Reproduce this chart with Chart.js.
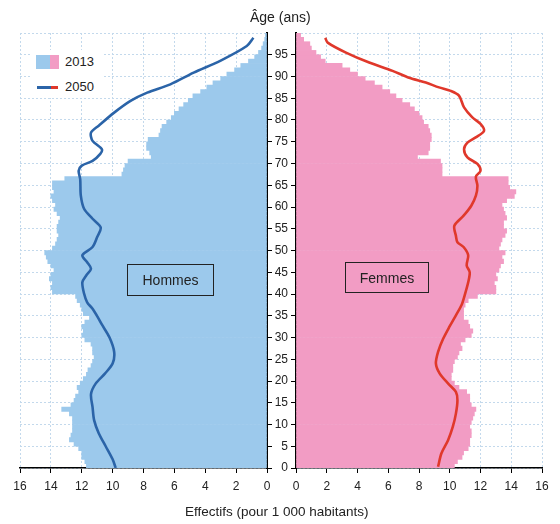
<!DOCTYPE html>
<html lang="fr">
<head>
<meta charset="utf-8">
<title>Pyramide des âges 2013 / 2050</title>
<script src="https://cdn.jsdelivr.net/npm/chart.js@4.4.0/dist/chart.umd.min.js"></script>
<style>
  body { margin: 0; background: #fff; font-family: "Liberation Sans", Arial, sans-serif; color: #222; }
  #wrap { position: relative; width: 560px; height: 524px; overflow: hidden; }
  canvas { position: absolute; top: 0; }
  #gauche { left: 0; }
  #droite { left: 262px; }
  .txt { position: absolute; white-space: nowrap; }
  .box { position: absolute; border: 1.5px solid #222; box-sizing: border-box;
         display: flex; align-items: center; justify-content: center; font-size: 14px; }
  #legende { position: absolute; left: 30px; top: 50px; width: 72px; height: 48px; background: #fff; }
</style>
</head>
<body>
<div id="wrap">
  <canvas id="gauche" width="285" height="524"></canvas>
  <canvas id="droite" width="298" height="524"></canvas>

  <div class="txt" style="left:250px; top:9px; font-size:14px;">Âge (ans)</div>
  <div class="txt" style="left:185px; top:504px; font-size:13.5px;">Effectifs (pour 1 000 habitants)</div>

  <div id="legende">
    <div style="position:absolute; left:6px; top:5px; width:14px; height:14px; background:#9cc9ec;"></div>
    <div style="position:absolute; left:20px; top:5px; width:9px; height:14px; background:#f29cc4;"></div>
    <div class="txt" style="left:35px; top:4px; font-size:13px;">2013</div>
    <div style="position:absolute; left:7px; top:36px; width:14px; height:3px; background:#2b64a8;"></div>
    <div style="position:absolute; left:21px; top:36px; width:7px; height:3px; background:#e0382b;"></div>
    <div class="txt" style="left:35px; top:29px; font-size:13px;">2050</div>
  </div>

  <div class="box" style="left:127px; top:264px; width:87px; height:32px;">Hommes</div>
  <div class="box" style="left:345px; top:262px; width:84px; height:31px;">Femmes</div>
</div>

<script>
// effectifs 2013 par âge (0 à 99 ans), pour 1 000 habitants
const hommes2013 = [
  11.7, 11.8, 12.0, 12.0, 12.2, 12.5, 12.8, 12.7, 12.6, 12.6,
  12.6, 12.6, 12.8, 13.3, 12.7, 12.5, 12.4, 12.2, 12.3, 12.1,
  11.9, 11.7, 11.6, 11.4, 11.3, 11.2, 11.3, 11.3, 11.4, 11.8,
  12.0, 11.9, 12.0, 11.8, 11.5, 11.9, 12.0, 12.1, 12.3, 12.4,
  13.9, 14.0, 13.9, 14.1, 14.0, 13.8, 14.0, 14.2, 14.3, 14.4,
  13.9, 13.7, 13.6, 13.5, 13.6, 13.6, 13.5, 13.4, 13.6, 13.8,
  13.7, 13.9, 14.0, 13.8, 13.9, 13.9, 13.1, 9.4, 9.3, 9.2,
  9.0, 7.5, 7.6, 7.8, 7.8, 7.7, 7.0, 6.9, 6.8, 6.5,
  6.2, 6.0, 5.7, 5.4, 5.1, 4.8, 4.3, 3.9, 3.5, 3.0,
  2.6, 2.1, 1.7, 1.2, 0.8, 0.55, 0.35, 0.25, 0.15, 0.1
];
const femmes2013 = [
  10.3, 10.5, 10.8, 10.9, 11.2, 11.3, 11.3, 11.4, 11.4, 11.3,
  11.4, 11.5, 11.6, 11.7, 11.4, 11.3, 11.3, 11.1, 10.6, 10.3,
  10.1, 10.1, 10.2, 10.2, 10.3, 10.5, 10.6, 10.8, 10.7, 11.0,
  11.4, 11.5, 11.3, 11.2, 10.9, 10.9, 10.9, 11.0, 11.2, 11.8,
  13.0, 13.0, 12.9, 13.1, 13.0, 13.2, 13.3, 13.5, 13.4, 13.6,
  13.2, 13.3, 13.4, 13.6, 13.7, 13.5, 13.5, 13.7, 13.6, 13.5,
  13.4, 13.7, 14.2, 14.3, 13.9, 13.8, 13.8, 9.5, 9.5, 9.5,
  9.4, 7.9, 8.6, 8.7, 8.7, 8.8, 8.8, 8.7, 8.6, 8.3,
  8.2, 8.0, 7.7, 7.4, 6.9, 6.5, 6.1, 5.6, 5.1, 4.5,
  4.0, 3.5, 3.0, 1.9, 1.6, 1.3, 1.0, 0.9, 0.5, 0.3
];

// projection 2050
const agesH2050 = [0, 2, 5, 8, 11, 14, 17, 19.4, 21.7, 24, 26.7, 30, 33, 34.3, 36.6, 38.1, 40.1, 42.7, 44.3, 45.8,
  47.3, 48.9, 50.8, 53.1, 55.3, 57.3, 59.6, 62.6, 66.4, 68.3, 69.5, 70.6, 72.2, 73.3, 75.2, 77.1, 78.7, 81.7,
  84.4, 86.3, 88.2, 90.9, 93.6, 97, 98.9];
const hommes2050 = [9.8, 10.0, 10.45, 10.9, 11.2, 11.3, 11.4, 11.1, 10.5, 10.0, 9.9, 10.2, 10.7, 10.9, 11.3, 11.65, 11.85, 11.96, 11.7, 11.4,
  11.65, 11.96, 11.3, 11.0, 10.77, 11.3, 11.85, 12.06, 12.1, 12.2, 12.0, 11.3, 10.8, 10.7, 11.3, 11.4, 10.9, 9.9,
  8.84, 7.76, 6.26, 4.75, 3.03, 1.31, 0.88];
const agesF2050 = [0.3, 3.4, 6.4, 9.5, 12.5, 15.6, 17.5, 19.4, 21.7, 24, 26.7, 29.7, 32.6, 35.1, 37.4, 39.7, 42.7, 45, 46.6, 48.9,
  50.8, 51.9, 53.4, 55.7, 58, 60.3, 62.6, 64.9, 67, 68.3, 69.9, 71.4, 73.3, 74.8, 76, 77.5, 79.1, 80.6, 82.9,
  85.6, 86.7, 87.5, 88.6, 89.7, 91.3, 93.2, 95.5, 97.8, 98.9];
const femmes2050 = [9.24, 9.46, 9.89, 10.2, 10.4, 10.5, 10.4, 9.9, 9.35, 9.1, 9.24, 9.57, 10.0, 10.4, 10.76, 10.97, 11.2, 11.3, 11.1, 11.2,
  10.9, 10.5, 10.4, 10.3, 10.9, 11.4, 11.7, 11.8, 11.7, 12.0, 11.8, 11.15, 10.93, 11.15, 11.69, 12.23, 12.0, 11.47, 10.93,
  10.6, 10.06, 9.3, 8.44, 7.36, 6.28, 4.76, 3.25, 2.06, 1.9];

const effectifMax = 16;
const ageMax = 100;

Chart.defaults.font.family = '"Liberation Sans", Arial, sans-serif';
Chart.defaults.font.size = 12;
Chart.defaults.color = '#222';

const grille = '#c3d9ec';

function pyramide(id, barres, agesLigne, valeursLigne, couleurBarre, couleurLigne, gauche) {
  const dataBarres = barres.map((v, age) => ({ x: v, y: age + 0.5 }));
  const dataLigne = valeursLigne.map((v, i) => ({ x: v, y: agesLigne[i] }));
  return new Chart(document.getElementById(id), {
    type: 'bar',
    data: {
      datasets: [
        { type: 'line', data: dataLigne, borderColor: couleurLigne, borderWidth: 2.6,
          pointRadius: 0, tension: 0.3, fill: false },
        { type: 'bar', data: dataBarres, backgroundColor: couleurBarre, borderWidth: 0,
          categoryPercentage: 1, barPercentage: 1 }
      ]
    },
    options: {
      indexAxis: 'y',
      responsive: false,
      animation: false,
      devicePixelRatio: 1,
      layout: { padding: gauche ? { left: 20, top: 33, right: 0, bottom: 0 } : { left: 0, top: 33, right: 18, bottom: 0 } },
      plugins: { legend: { display: false }, tooltip: { enabled: false } },
      scales: {
        x: {
          type: 'linear', reverse: gauche, min: 0, max: effectifMax,
          ticks: { stepSize: 2, padding: 6 },
          grid: { color: grille, tickColor: '#000', tickLength: 5 },
          border: { color: '#000', width: 1.5, dash: [2, 2] },
          afterFit: s => { s.height = 56; }
        },
        y: {
          type: 'linear', position: gauche ? 'right' : 'left', min: 0, max: ageMax,
          offset: false,
          ticks: { stepSize: 5, display: !gauche, padding: 3, callback: v => v === ageMax ? '' : v },
          grid: { offset: false, color: grille, tickLength: 5,
                  tickColor: c => (c.tick && c.tick.value === ageMax) ? 'rgba(0,0,0,0)' : '#000' },
          border: { color: '#000', width: 2, dash: [2, 2] },
          afterFit: s => { s.width = gauche ? 18 : 34; }
        }
      }
    }
  });
}

pyramide('gauche', hommes2013, agesH2050, hommes2050, '#9cc9ec', '#2b64a8', true);
pyramide('droite', femmes2013, agesF2050, femmes2050, '#f29cc4', '#e0382b', false);
</script>
</body>
</html>
